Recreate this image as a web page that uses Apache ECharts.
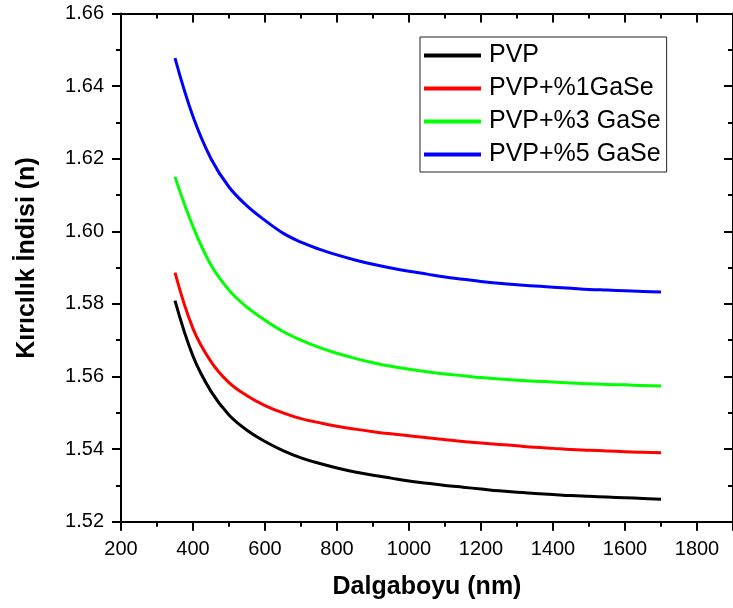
<!DOCTYPE html>
<html>
<head>
<meta charset="utf-8">
<script src="https://cdn.jsdelivr.net/npm/echarts@6/dist/echarts.min.js"></script>
<style>html,body{margin:0;padding:0;background:#fff}#c{width:733px;height:608px}</style>
</head>
<body>
<div id="c"></div>
<script>
var wavelengths = [350,400,450,500,550,600,650,700,750,800,850,900,950,1000,1050,1100,1150,1200,1250,1300,1350,1400,1450,1500,1550,1600,1650,1700];
var pvp   = [1.5809,1.5656,1.5559,1.5494,1.5452,1.5421,1.5396,1.5376,1.5361,1.5348,1.5337,1.5328,1.5320,1.5312,1.5306,1.5300,1.5295,1.5290,1.5285,1.5281,1.5278,1.5275,1.5272,1.5270,1.5268,1.5266,1.5264,1.5262];
var gase1 = [1.5886,1.5732,1.5641,1.5583,1.5547,1.5520,1.5500,1.5484,1.5473,1.5463,1.5455,1.5448,1.5442,1.5437,1.5431,1.5426,1.5421,1.5417,1.5413,1.5409,1.5405,1.5402,1.5399,1.5397,1.5395,1.5393,1.5391,1.5390];
var gase3 = [1.6150,1.6013,1.5907,1.5838,1.5791,1.5755,1.5724,1.5700,1.5680,1.5664,1.5650,1.5638,1.5628,1.5620,1.5613,1.5607,1.5602,1.5597,1.5593,1.5590,1.5587,1.5585,1.5582,1.5580,1.5578,1.5577,1.5575,1.5574];
var gase5 = [1.6477,1.6316,1.6200,1.6122,1.6070,1.6030,1.5995,1.5970,1.5951,1.5935,1.5921,1.5909,1.5899,1.5890,1.5882,1.5874,1.5868,1.5862,1.5857,1.5853,1.5849,1.5846,1.5843,1.5840,1.5838,1.5836,1.5834,1.5833];
var seriesNames = ['PVP','PVP+%1GaSe','PVP+%3 GaSe','PVP+%5 GaSe'];
var seriesColors = ['#000000','#ff0000','#00ff00','#0000ff'];
var xTitle = 'Dalgaboyu (nm)';
var yTitle = 'Kırıcılık İndisi (n)';

var FONT = "'Liberation Sans', Arial, sans-serif";
function pairs(vals){ return wavelengths.map(function(w,i){ return [w, vals[i]]; }); }
var allVals = [pvp, gase1, gase3, gase5];

var axisLine = {show:true, onZero:false, lineStyle:{color:'#000', width:2}};
function mkX(pos, showLbl){
  return {
    type:'value', position:pos, min:200, max:1900, interval:200,
    axisLine: axisLine,
    axisTick:{show:true, inside: pos==='top', length:9, lineStyle:{color:'#000', width:2}},
    minorTick:{show:true, splitNumber:2, length:5, lineStyle:{color:'#000', width:2}},
    splitLine:{show:false}, minorSplitLine:{show:false},
    axisLabel:{show:showLbl, margin:18, fontSize:20, color:'#000', fontFamily:FONT, showMaxLabel:false,
      formatter:function(v){ return v>1800 ? '' : String(v); }},
    name: showLbl ? xTitle : '', nameLocation:'middle', nameGap:53,
    nameTextStyle:{fontSize:25, fontWeight:'bold', color:'#000', fontFamily:FONT}
  };
}
function mkY(pos, showLbl){
  return {
    type:'value', position:pos, min:1.52, max:1.66, interval:0.02,
    axisLine: axisLine,
    axisTick:{show:true, inside: pos==='right', length:9, lineStyle:{color:'#000', width:2}},
    minorTick:{show:true, splitNumber:2, length:5, lineStyle:{color:'#000', width:2}},
    splitLine:{show:false}, minorSplitLine:{show:false},
    axisLabel:{show:showLbl, margin:17, fontSize:20, color:'#000', fontFamily:FONT,
      formatter:function(v){ return v.toFixed(2); }}
  };
}

var chart = echarts.init(document.getElementById('c'), null, {renderer:'canvas'});
chart.setOption({
  animation:false,
  backgroundColor:'#fff',
  grid:{left:121, right:-2, top:13.5, bottom:86.3, containLabel:false},
  xAxis:[mkX('bottom', true), mkX('top', false)],
  yAxis:[mkY('left', true), mkY('right', false)],
  legend:{
    orient:'vertical', left:420, top:37,
    padding:[6,6,5,4], itemGap:8,
    borderColor:'#222', borderWidth:1,
    icon:'rect', itemWidth:57, itemHeight:4,
    textStyle:{fontSize:25, color:'#000', fontFamily:FONT, padding:[0,0,0,3]},
    data: seriesNames
  },
  graphic:[{
    type:'text', x:27, y:258, rotation:Math.PI/2,
    style:{text:yTitle, font:"bold 25px 'Liberation Sans', Arial, sans-serif", fill:'#000',
      textAlign:'center', textVerticalAlign:'middle'}
  }],
  series: seriesNames.map(function(n,i){
    return {
      name:n, type:'line', xAxisIndex:0, yAxisIndex:0,
      data: pairs(allVals[i]),
      smooth:0.4, showSymbol:false, symbol:'none',
      lineStyle:{color:seriesColors[i], width:3},
      itemStyle:{color:seriesColors[i]}
    };
  })
});
</script>
</body>
</html>
